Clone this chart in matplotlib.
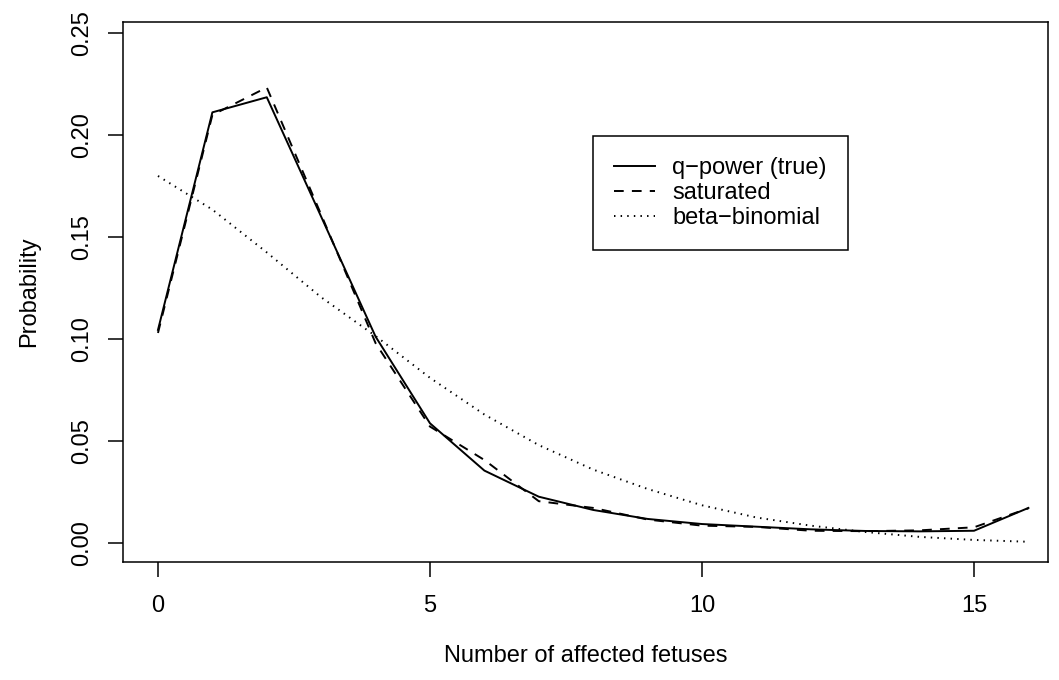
import numpy as np
import matplotlib
matplotlib.use("Agg")
import matplotlib.pyplot as plt

plt.rcParams['font.family'] = ['Liberation Sans', 'DejaVu Sans']

# number of affected fetuses in a litter
n_affected = np.arange(17)

# fitted probabilities for each model
p_qpower = [0.1045, 0.2112, 0.2186, 0.1600, 0.1012, 0.0587, 0.0355, 0.0227, 0.0162,
            0.0118, 0.0093, 0.0080, 0.0067, 0.0059, 0.0057, 0.0060, 0.0172]
p_saturated = [0.1030, 0.2099, 0.2234, 0.1610, 0.0980, 0.0571, 0.0407, 0.0205, 0.0172,
               0.0115, 0.0085, 0.0079, 0.0060, 0.0058, 0.0062, 0.0077, 0.0170]
p_betabin = [0.1800, 0.1635, 0.1425, 0.1205, 0.1015, 0.0810, 0.0630, 0.0480, 0.0360,
             0.0265, 0.0185, 0.0125, 0.0085, 0.0054, 0.0030, 0.0015, 0.0006]

labels = ["q\u2212power (true)", "saturated", "beta\u2212binomial"]
xticks = [0, 5, 10, 15]
yticks = [0.00, 0.05, 0.10, 0.15, 0.20, 0.25]

W, H = 1059, 680
fig = plt.figure(figsize=(W / 100, H / 100), dpi=100)
ax = fig.add_axes([123 / W, 1 - 562 / H, (1048 - 123) / W, (562 - 22) / H])

fs = 17
lw = 1.4
ax.plot(n_affected, p_qpower, color='black', lw=lw, label=labels[0])
ax.plot(n_affected, p_saturated, color='black', lw=lw, linestyle=(0, (5, 4.2)),
        dash_capstyle='butt', label=labels[1])
ax.plot(n_affected, p_betabin, color='black', lw=lw, linestyle=(0, (0.75, 2.65)),
        dash_capstyle='butt', label=labels[2])

ax.set_xlim(-0.643, 16.36)
ax.set_ylim(-0.00932, 0.2555)
ax.set_xticks(xticks)
ax.set_xticklabels([str(t) for t in xticks])
ax.set_yticks(yticks)
ax.set_yticklabels([f"{t:.2f}" for t in yticks], rotation=90, va='center')

ax.tick_params(axis='both', direction='out', length=10.8, width=1.1,
               labelsize=fs, color='black')
ax.tick_params(axis='y', pad=11)
ax.tick_params(axis='x', pad=13)
for s in ax.spines.values():
    s.set_linewidth(1.1)
    s.set_color('black')

ax.set_xlabel("Number of affected fetuses", fontsize=fs, labelpad=20)
ax.set_ylabel("Probability", fontsize=fs, labelpad=22)

leg = ax.legend(loc='upper left', bbox_to_anchor=(0.508, 0.789), fontsize=fs,
                frameon=True, fancybox=False, edgecolor='black', framealpha=1,
                handlelength=1.74, handletextpad=0.72, labelspacing=0.12,
                borderpad=0.9, borderaxespad=0)
leg.get_frame().set_linewidth(1.1)

fig.savefig("out.png", dpi=100)
